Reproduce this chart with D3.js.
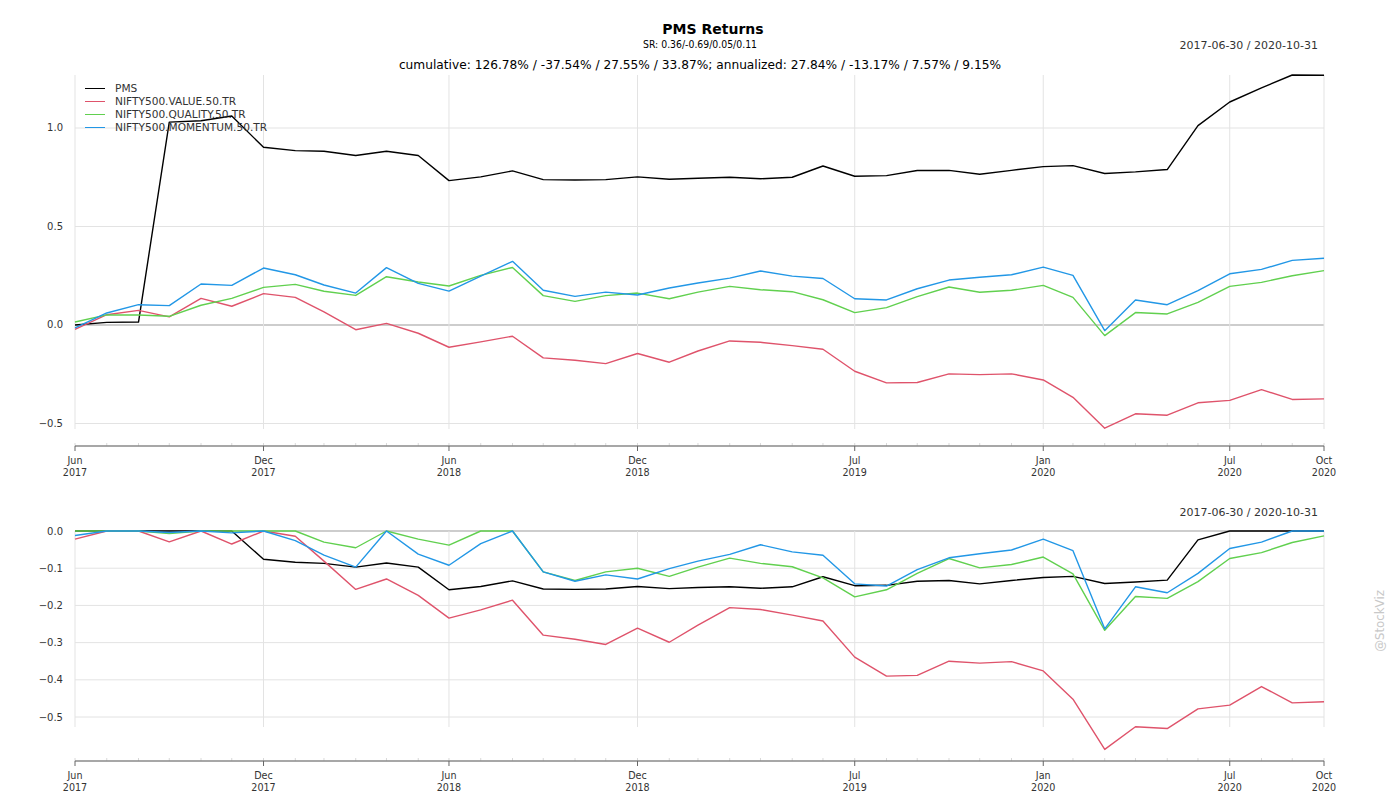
<!DOCTYPE html>
<html>
<head>
<meta charset="utf-8">
<script src="https://cdn.jsdelivr.net/npm/d3@7"></script>
<style>
  html, body { margin: 0; padding: 0; background: #fff; }
  svg { display: block; font-family: "DejaVu Sans", sans-serif; }
</style>
</head>
<body>
<svg id="chart" width="1400" height="800"></svg>
<script>
// ---------------- data ----------------
const dates = ["2017-06-30","2017-07-31","2017-08-31","2017-09-30","2017-10-31","2017-11-30","2017-12-31",
  "2018-01-31","2018-02-28","2018-03-31","2018-04-30","2018-05-31","2018-06-30","2018-07-31","2018-08-31",
  "2018-09-30","2018-10-31","2018-11-30","2018-12-31","2019-01-31","2019-02-28","2019-03-31","2019-04-30",
  "2019-05-31","2019-06-30","2019-07-31","2019-08-31","2019-09-30","2019-10-31","2019-11-30","2019-12-31",
  "2020-01-31","2020-02-29","2020-03-31","2020-04-30","2020-05-31","2020-06-30","2020-07-31","2020-08-31",
  "2020-09-30","2020-10-31"];

const seriesNames = ["PMS", "NIFTY500.VALUE.50.TR", "NIFTY500.QUALITY.50.TR", "NIFTY500.MOMENTUM.50.TR"];
const seriesColors = ["#000000", "#DF536B", "#61D04F", "#2297E6"];

// cumulative returns
const cumPMS = [0.000,0.013,0.015,1.030,1.037,1.061,0.902,0.885,0.882,0.860,0.882,0.860,0.733,0.752,0.782,
  0.738,0.736,0.738,0.752,0.740,0.745,0.750,0.742,0.750,0.807,0.755,0.758,0.784,0.785,0.765,0.785,0.804,0.809,
  0.769,0.777,0.789,1.012,1.132,1.204,1.269,1.268];
const cumValue = [-0.022,0.052,0.074,0.041,0.135,0.095,0.159,0.140,0.066,-0.024,0.008,-0.042,-0.113,-0.086,
  -0.057,-0.167,-0.179,-0.196,-0.145,-0.189,-0.132,-0.081,-0.088,-0.105,-0.123,-0.235,-0.294,-0.292,-0.248,
  -0.252,-0.248,-0.279,-0.367,-0.524,-0.451,-0.458,-0.395,-0.383,-0.328,-0.378,-0.375];
const cumQuality = [0.015,0.051,0.051,0.044,0.100,0.135,0.191,0.206,0.171,0.150,0.245,0.218,0.198,0.252,0.292,
  0.149,0.120,0.149,0.162,0.133,0.167,0.196,0.179,0.169,0.128,0.063,0.088,0.144,0.193,0.166,0.176,0.201,0.140,
  -0.054,0.063,0.056,0.115,0.196,0.216,0.250,0.276];
const cumMomentum = [-0.015,0.061,0.103,0.098,0.208,0.201,0.289,0.255,0.203,0.162,0.291,0.211,0.172,0.248,0.323,
  0.176,0.145,0.167,0.152,0.188,0.213,0.238,0.274,0.248,0.236,0.133,0.127,0.184,0.228,0.242,0.255,0.294,0.252,
  -0.029,0.127,0.103,0.174,0.260,0.282,0.328,0.339];

// drawdowns
const ddPMS = [0,0,0,0,0,0,-0.076,-0.084,-0.087,-0.097,-0.086,-0.097,-0.158,-0.149,-0.134,-0.156,-0.157,-0.156,
  -0.149,-0.155,-0.152,-0.150,-0.154,-0.150,-0.123,-0.147,-0.146,-0.135,-0.133,-0.142,-0.133,-0.125,-0.122,
  -0.141,-0.137,-0.132,-0.024,0,0,0,0];
const ddValue = [-0.022,0,0,-0.029,0,-0.035,0,-0.014,-0.081,-0.157,-0.129,-0.173,-0.234,-0.212,-0.186,-0.280,
  -0.291,-0.305,-0.261,-0.299,-0.253,-0.206,-0.211,-0.226,-0.242,-0.339,-0.390,-0.388,-0.350,-0.355,-0.351,
  -0.376,-0.452,-0.587,-0.526,-0.531,-0.478,-0.468,-0.418,-0.462,-0.459];
const ddQuality = [0,0,0,-0.007,0,0,0,0,-0.030,-0.045,0,-0.022,-0.038,0,0,-0.110,-0.133,-0.110,-0.100,-0.122,
  -0.097,-0.073,-0.087,-0.096,-0.126,-0.177,-0.158,-0.114,-0.074,-0.099,-0.090,-0.070,-0.115,-0.267,-0.176,
  -0.181,-0.136,-0.074,-0.058,-0.031,-0.013];
const ddMomentum = [-0.012,0,0,-0.004,0,-0.005,0,-0.026,-0.065,-0.097,0,-0.062,-0.092,-0.034,0,-0.110,-0.135,
  -0.118,-0.129,-0.101,-0.081,-0.063,-0.037,-0.056,-0.065,-0.142,-0.148,-0.104,-0.072,-0.061,-0.051,-0.022,
  -0.053,-0.263,-0.150,-0.166,-0.114,-0.047,-0.030,0,0];

const topTicks = [-0.5, 0.0, 0.5, 1.0];
const bottomTicks = [0.0, -0.1, -0.2, -0.3, -0.4, -0.5];
const xTickDates = ["2017-06-30","2017-12-31","2018-06-30","2018-12-31","2019-07-31","2020-01-31","2020-07-31","2020-10-31"];
const xTickMonth = ["Jun","Dec","Jun","Dec","Jul","Jan","Jul","Oct"];
const xTickYear = ["2017","2017","2018","2018","2019","2020","2020","2020"];

const titleText = "PMS Returns";
const srText = "SR: 0.36/-0.69/0.05/0.11";
const subText = "cumulative: 126.78% / -37.54% / 27.55% / 33.87%; annualized: 27.84% / -13.17% / 7.57% / 9.15%";
const rangeText = "2017-06-30 / 2020-10-31";
const watermark = "@StockViz";

// ---------------- drawing ----------------
const svg = d3.select("#chart");
const parse = d3.utcParse("%Y-%m-%d");
const dateObjs = dates.map(parse);

const left = 75, right = 1324;
const x = d3.scaleUtc().domain(d3.extent(dateObjs)).range([left, right]);

const gridColor = "#e3e3e3";
const textColor = "#333";

function panel(cfg) {
  const g = svg.append("g");
  const all = cfg.series.flat();
  const y = d3.scaleLinear().domain(d3.extent(all)).range(cfg.yRange);

  // horizontal grid
  g.selectAll("line.hg").data(cfg.ticks).enter().append("line")
    .attr("x1", left).attr("x2", right)
    .attr("y1", d => y(d)).attr("y2", d => y(d))
    .attr("stroke", d => d === 0 ? "#bdbdbd" : gridColor)
    .attr("stroke-width", d => d === 0 ? 1.6 : 1);

  // vertical grid
  g.selectAll("line.vg").data(xTickDates).enter().append("line")
    .attr("x1", d => x(parse(d))).attr("x2", d => x(parse(d)))
    .attr("y1", cfg.gridTop).attr("y2", cfg.gridBottom)
    .attr("stroke", gridColor).attr("stroke-width", 1);

  // y labels
  g.selectAll("text.yl").data(cfg.ticks).enter().append("text")
    .attr("x", 63).attr("y", d => y(d)).attr("dy", "0.35em")
    .attr("text-anchor", "end").attr("font-size", "10px").attr("fill", textColor)
    .text(d => d3.format(".1f")(d));

  // lines
  const line = d3.line().x((d, i) => x(dateObjs[i])).y(d => y(d));
  cfg.series.forEach((s, k) => {
    g.append("path").datum(s).attr("d", line)
      .attr("fill", "none").attr("stroke", seriesColors[k])
      .attr("stroke-width", 1.4).attr("stroke-linejoin", "round");
  });

  // x axis
  const ax = g.append("g").attr("transform", `translate(0,${cfg.axisY})`);
  ax.selectAll("line.minor").data(dateObjs).enter().append("line")
    .attr("x1", d => x(d)).attr("x2", d => x(d)).attr("y1", -3).attr("y2", 0)
    .attr("stroke", "#d8d8d8").attr("stroke-width", 1);
  ax.append("line").attr("x1", left).attr("x2", right).attr("y1", 0).attr("y2", 0)
    .attr("stroke", "#8a8a8a").attr("stroke-width", 1.6);
  xTickDates.forEach((d, i) => {
    const xx = x(parse(d));
    ax.append("line").attr("x1", xx).attr("x2", xx).attr("y1", 0).attr("y2", 5)
      .attr("stroke", "#666").attr("stroke-width", 1);
    ax.append("text").attr("x", xx).attr("y", 18).attr("text-anchor", "middle")
      .attr("font-size", "9.6px").attr("fill", textColor).text(xTickMonth[i]);
    ax.append("text").attr("x", xx).attr("y", 30).attr("text-anchor", "middle")
      .attr("font-size", "9.6px").attr("fill", textColor).text(xTickYear[i]);
  });

  // date range
  svg.append("text").attr("x", 1318).attr("y", cfg.rangeY).attr("text-anchor", "end")
    .attr("font-size", "11px").attr("fill", textColor).text(rangeText);
  return y;
}

panel({
  series: [cumPMS, cumValue, cumQuality, cumMomentum],
  ticks: topTicks, yRange: [428.2, 75], gridTop: 75, gridBottom: 429, axisY: 446, rangeY: 49
});
panel({
  series: [ddPMS, ddValue, ddQuality, ddMomentum],
  ticks: bottomTicks, yRange: [749.4, 531], gridTop: 531, gridBottom: 727, axisY: 761, rangeY: 516
});

// titles
svg.append("text").attr("x", 713).attr("y", 34).attr("text-anchor", "middle")
  .attr("font-size", "14px").attr("font-weight", "bold").attr("fill", "#000").text(titleText);
svg.append("text").attr("x", 643).attr("y", 48)
  .attr("font-size", "10.5px").attr("textLength", 114).attr("lengthAdjust", "spacingAndGlyphs")
  .attr("fill", "#000").text(srText);
svg.append("text").attr("x", 700).attr("y", 69).attr("text-anchor", "middle")
  .attr("font-size", "12.2px").attr("fill", "#000").text(subText);

// legend
const lg = svg.append("g");
seriesNames.forEach((n, i) => {
  const yy = 88.5 + i * 13;
  lg.append("line").attr("x1", 85).attr("x2", 105).attr("y1", yy).attr("y2", yy)
    .attr("stroke", seriesColors[i]).attr("stroke-width", 1);
  lg.append("text").attr("x", 115).attr("y", yy).attr("dy", "0.35em")
    .attr("font-size", "10.6px").attr("fill", textColor).text(n);
});

// watermark
svg.append("text").attr("transform", "translate(1384,621) rotate(-90)")
  .attr("text-anchor", "middle").attr("font-size", "11.8px").attr("fill", "#c8c8c8").text(watermark);
</script>
</body>
</html>
